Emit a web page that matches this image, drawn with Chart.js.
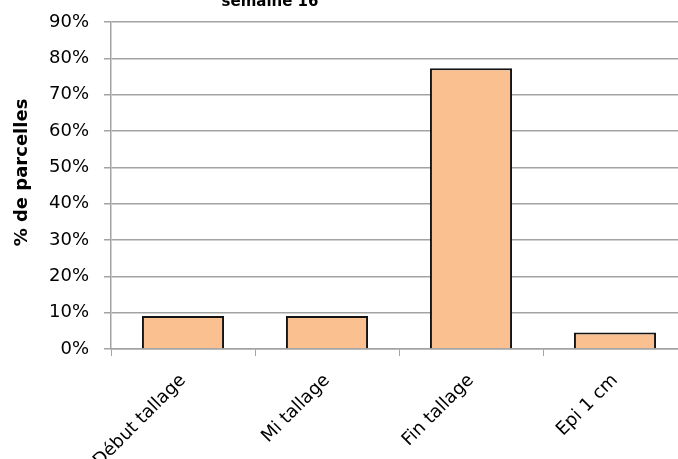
<!DOCTYPE html>
<html>
<head>
<meta charset="utf-8">
<script src="https://cdn.jsdelivr.net/npm/chart.js@4"></script>
<style>
  html, body { margin: 0; padding: 0; background: #ffffff; overflow: hidden; width: 678px; height: 459px; }
  #wrap { position: absolute; left: 0; top: -20px; width: 687px; height: 479px; }
</style>
</head>
<body>
<div id="wrap"><canvas id="chart" width="687" height="479"></canvas></div>
<script>
// Stades des parcelles, semaine 16 (% des parcelles observées)
const chartTitle = 'semaine 16';
const yAxisTitle = '% de parcelles';
const categories = ['Début tallage', 'Mi tallage', 'Fin tallage', 'Epi 1 cm'];
const parcelShare = [9.09, 9.09, 77.27, 4.55];
const yMin = 0;
const yMax = 90;
const yStep = 10;

const FONT = "'DejaVu Sans', sans-serif";
const GRID = '#a3a3a3';

// Title and vertical axis title, drawn on the canvas
const titles = {
  id: 'titles',
  afterDraw(chart) {
    const ctx = chart.ctx;
    const area = chart.chartArea;
    ctx.save();
    ctx.fillStyle = '#000000';
    ctx.font = 'bold 15px ' + FONT;
    ctx.textAlign = 'center';
    ctx.textBaseline = 'alphabetic';
    ctx.fillText(chartTitle, 270, 26);

    ctx.font = 'bold 18px ' + FONT;
    ctx.translate(22, (area.top + area.bottom) / 2 - 13);
    ctx.rotate(-Math.PI / 2);
    ctx.textBaseline = 'middle';
    ctx.fillText(yAxisTitle, 0, 0);
    ctx.restore();
  }
};

new Chart(document.getElementById('chart'), {
  type: 'bar',
  data: {
    labels: categories,
    datasets: [{
      data: parcelShare,
      backgroundColor: '#FAC090',
      borderColor: '#141414',
      borderWidth: 2,
      borderSkipped: 'start',
      categoryPercentage: 0.57,
      barPercentage: 1.0
    }]
  },
  options: {
    responsive: false,
    animation: false,
    devicePixelRatio: 1,
    layout: { padding: { top: 42, right: 0, left: 0, bottom: 0 } },
    plugins: {
      legend: { display: false },
      title: { display: false },
      tooltip: { enabled: false }
    },
    scales: {
      x: {
        offset: true,
        grid: {
          offset: true,
          drawOnChartArea: false,
          drawTicks: true,
          tickLength: 7,
          color: GRID,
          lineWidth: 1
        },
        border: { display: true, color: GRID, width: 1.5 },
        ticks: {
          color: '#000000',
          font: { family: FONT, size: 18 },
          minRotation: 45,
          maxRotation: 45,
          padding: 14,
          autoSkip: false
        },
        afterFit(scale) { scale.height = 110; }
      },
      y: {
        min: yMin,
        max: yMax,
        grid: {
          color: GRID,
          lineWidth: 1.5,
          drawTicks: true,
          tickLength: 7
        },
        border: { display: true, color: GRID, width: 1.5 },
        ticks: {
          stepSize: yStep,
          color: '#000000',
          font: { family: FONT, size: 18 },
          padding: 15,
          callback: (v) => v + '%'
        },
        afterFit(scale) { scale.width = 111; }
      }
    }
  },
  plugins: [titles]
});
</script>
</body>
</html>
